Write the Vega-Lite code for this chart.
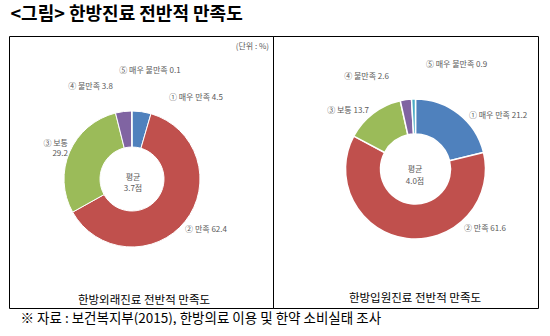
{
  "$schema": "https://vega.github.io/schema/vega-lite/v6.json",
  "padding": {"left": 8, "top": 5, "right": 12, "bottom": 0},
  "background": "white",
  "config": {
    "font": "Noto Sans CJK KR",
    "view": {"stroke": "#000", "strokeWidth": 1},
    "concat": {"spacing": 0}
  },
  "datasets": {
    "outpatient": [
      {"no": "①", "cat": "매우 만족", "value": 4.5},
      {"no": "②", "cat": "만족", "value": 62.4},
      {"no": "③", "cat": "보통", "value": 29.2},
      {"no": "④", "cat": "불만족", "value": 3.8},
      {"no": "⑤", "cat": "매우 불만족", "value": 0.1}
    ],
    "inpatient": [
      {"no": "①", "cat": "매우 만족", "value": 21.2},
      {"no": "②", "cat": "만족", "value": 61.6},
      {"no": "③", "cat": "보통", "value": 13.7},
      {"no": "④", "cat": "불만족", "value": 2.6},
      {"no": "⑤", "cat": "매우 불만족", "value": 0.9}
    ],
    "outpatient_mean": [{"mean": 3.7}],
    "inpatient_mean": [{"mean": 4.0}]
  },
  "title": {
    "text": "<그림> 한방진료 전반적 만족도",
    "anchor": "start",
    "fontSize": 18,
    "fontWeight": "bold",
    "color": "#000",
    "offset": 12,
    "dx": 2
  },
  "vconcat": [
    {
      "title": {
        "text": "※ 자료 : 보건복지부(2015), 한방의료 이용 및 한약 소비실태 조사",
        "orient": "bottom",
        "anchor": "start",
        "fontSize": 13.5,
        "fontWeight": "normal",
        "color": "#000",
        "offset": 3,
        "dx": 12
      },
      "spacing": 0,
      "bounds": "flush",
      "hconcat": [
        {
          "width": 264,
          "height": 272,
          "view": {"stroke": "#000", "strokeWidth": 1},
          "title": {
            "text": "한방외래진료 전반적 만족도",
            "orient": "bottom",
            "offset": -13,
            "fontSize": 11.5,
            "fontWeight": "normal",
            "color": "#000",
            "anchor": "middle",
            "dx": 3
          },
          "layer": [
            {
              "data": {"name": "outpatient"},
              "transform": [
                {"calculate": "datum.no + ' ' + datum.cat + ' ' + format(datum.value, '.1f')", "as": "label"},
                {"calculate": "datum.no + ' ' + datum.cat + '|' + format(datum.value, '.1f')", "as": "label2"}
              ],
              "encoding": {
                "theta": {"field": "value", "type": "quantitative", "stack": true},
                "order": {"field": "no", "type": "ordinal"},
                "detail": {"field": "no", "type": "nominal"}
              },
              "layer": [
                {
                  "mark": {"type": "arc", "x": 123, "y": 143, "outerRadius": 68, "innerRadius": 32, "stroke": "white", "strokeWidth": 1},
                  "encoding": {
                    "color": {"field": "no", "type": "nominal", "legend": null,
                      "scale": {"domain": ["①", "②", "③", "④", "⑤"], "range": ["#4F81BD", "#C0504D", "#9BBB59", "#8064A2", "#4BACC6"]}}
                  }
                },
                {
                  "mark": {"type": "text", "x": 123, "y": 143, "radius": 80, "align": "left", "baseline": "middle", "dx": 25.7, "dy": -2, "fontSize": 8, "fill": "#595959"},
                  "encoding": {"text": {"condition": {"test": "datum.no === '①'", "field": "label"}, "value": ""}}
                },
                {
                  "mark": {"type": "text", "x": 123, "y": 143, "radius": 80, "align": "left", "baseline": "middle", "dx": -9.5, "dy": 1.5, "fontSize": 8, "fill": "#595959"},
                  "encoding": {"text": {"condition": {"test": "datum.no === '②'", "field": "label"}, "value": ""}}
                },
                {
                  "mark": {"type": "text", "x": 123, "y": 143, "radius": 80, "align": "right", "baseline": "middle", "lineBreak": "|", "lineHeight": 10, "dx": 9.4, "dy": -3.2, "fontSize": 8, "fill": "#595959"},
                  "encoding": {"text": {"condition": {"test": "datum.no === '③'", "field": "label2"}, "value": ""}}
                },
                {
                  "mark": {"type": "text", "x": 123, "y": 143, "radius": 80, "align": "right", "baseline": "middle", "dx": -9, "dy": -13, "fontSize": 8, "fill": "#595959"},
                  "encoding": {"text": {"condition": {"test": "datum.no === '④'", "field": "label"}, "value": ""}}
                },
                {
                  "mark": {"type": "text", "x": 123, "y": 143, "radius": 80, "align": "center", "baseline": "middle", "dx": 18.2, "dy": -28.5, "fontSize": 8, "fill": "#595959"},
                  "encoding": {"text": {"condition": {"test": "datum.no === '⑤'", "field": "label"}, "value": ""}}
                }
              ]
            },
            {
              "data": {"name": "outpatient_mean"},
              "transform": [{"calculate": "'평균|' + format(datum.mean, '.1f') + '점'", "as": "t"}],
              "mark": {"type": "text", "x": 124, "y": 141.5, "align": "center", "baseline": "middle", "lineBreak": "|", "lineHeight": 11, "fontSize": 8, "fill": "#595959"},
              "encoding": {"text": {"field": "t"}}
            },
            {
              "data": {"name": "outpatient_mean"},
              "mark": {"type": "text", "x": 260, "y": 11, "align": "right", "baseline": "middle", "fontSize": 8, "fill": "#595959", "text": "(단위 : %)"},
              "encoding": {}
            }
          ]
        },
        {
          "width": 265,
          "height": 272,
          "view": {"stroke": "#000", "strokeWidth": 1},
          "title": {
            "text": "한방입원진료 전반적 만족도",
            "orient": "bottom",
            "offset": -15,
            "fontSize": 11.5,
            "fontWeight": "normal",
            "color": "#000",
            "anchor": "middle",
            "dx": 9.5
          },
          "layer": [
            {
              "data": {"name": "inpatient"},
              "transform": [
                {"calculate": "datum.no + ' ' + datum.cat + ' ' + format(datum.value, '.1f')", "as": "label"}
              ],
              "encoding": {
                "theta": {"field": "value", "type": "quantitative", "stack": true},
                "order": {"field": "no", "type": "ordinal"},
                "detail": {"field": "no", "type": "nominal"}
              },
              "layer": [
                {
                  "mark": {"type": "arc", "x": 142.5, "y": 133, "outerRadius": 70, "innerRadius": 35, "stroke": "white", "strokeWidth": 1.5},
                  "encoding": {
                    "color": {"field": "no", "type": "nominal", "legend": null,
                      "scale": {"domain": ["①", "②", "③", "④", "⑤"], "range": ["#4F81BD", "#C0504D", "#9BBB59", "#8064A2", "#4BACC6"]}}
                  }
                },
                {
                  "mark": {"type": "text", "x": 142.5, "y": 133, "radius": 80, "align": "left", "baseline": "middle", "dx": 4, "dy": 9.9, "fontSize": 8, "fill": "#595959"},
                  "encoding": {"text": {"condition": {"test": "datum.no === '①'", "field": "label"}, "value": ""}}
                },
                {
                  "mark": {"type": "text", "x": 142.5, "y": 133, "radius": 80, "align": "left", "baseline": "middle", "dx": 58.5, "dy": -19.4, "fontSize": 8, "fill": "#595959"},
                  "encoding": {"text": {"condition": {"test": "datum.no === '②'", "field": "label"}, "value": ""}}
                },
                {
                  "mark": {"type": "text", "x": 142.5, "y": 133, "radius": 80, "align": "right", "baseline": "middle", "dx": 2, "dy": 5.7, "fontSize": 8, "fill": "#595959"},
                  "encoding": {"text": {"condition": {"test": "datum.no === '③'", "field": "label"}, "value": ""}}
                },
                {
                  "mark": {"type": "text", "x": 142.5, "y": 133, "radius": 80, "align": "right", "baseline": "middle", "dx": -15.5, "dy": -12.8, "fontSize": 8, "fill": "#595959"},
                  "encoding": {"text": {"condition": {"test": "datum.no === '④'", "field": "label"}, "value": ""}}
                },
                {
                  "mark": {"type": "text", "x": 142.5, "y": 133, "radius": 80, "align": "left", "baseline": "middle", "dx": 12.7, "dy": -24, "fontSize": 8, "fill": "#595959"},
                  "encoding": {"text": {"condition": {"test": "datum.no === '⑤'", "field": "label"}, "value": ""}}
                }
              ]
            },
            {
              "data": {"name": "inpatient_mean"},
              "transform": [{"calculate": "'평균|' + format(datum.mean, '.1f') + '점'", "as": "t"}],
              "mark": {"type": "text", "x": 142, "y": 134, "align": "center", "baseline": "middle", "lineBreak": "|", "lineHeight": 12, "fontSize": 8, "fill": "#595959"},
              "encoding": {"text": {"field": "t"}}
            }
          ]
        }
      ]
    }
  ]
}
